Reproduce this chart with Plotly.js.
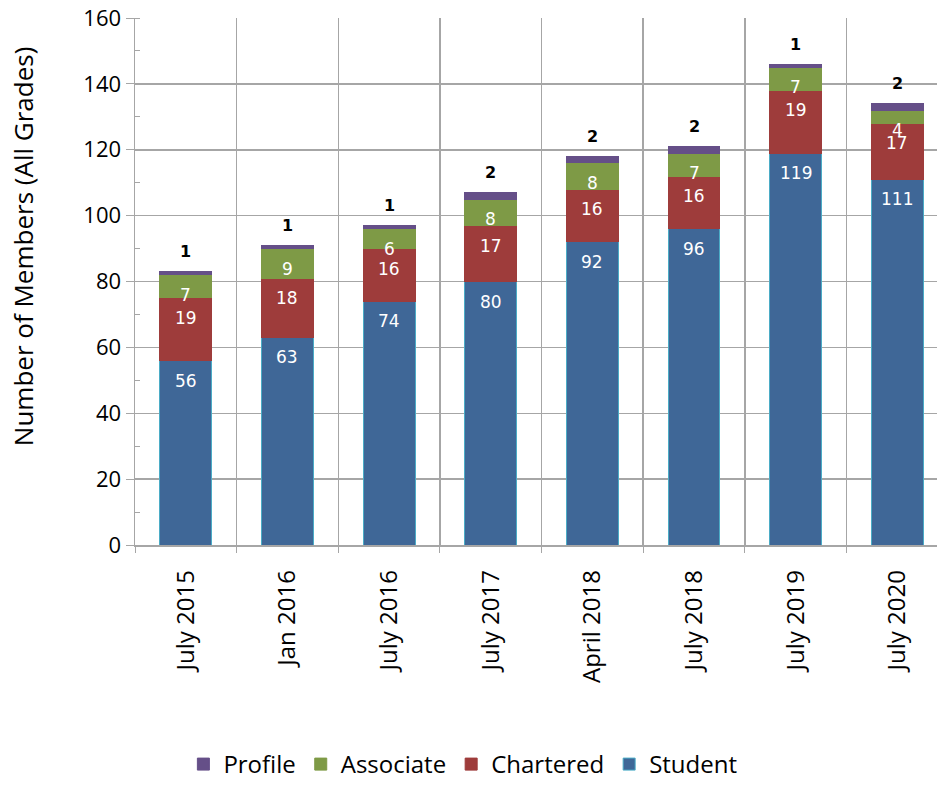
<!DOCTYPE html>
<html><head><meta charset="utf-8">
<script src="https://cdn.plot.ly/plotly-3.0.1.min.js"></script>
<style>html,body{margin:0;padding:0;background:#fff}#chart{width:937px;height:787px}</style>
</head><body><div id="chart"></div>
<script>
const categories = ["July 2015","Jan 2016","July 2016","July 2017","April 2018","July 2018","July 2019","July 2020"];
const student   = [56, 63, 74, 80, 92, 96, 119, 111];
const chartered = [19, 18, 16, 17, 16, 16, 19, 17];
const associate = [7, 9, 6, 8, 8, 7, 7, 4];
const profile   = [1, 1, 1, 2, 2, 2, 1, 2];
const yTitle = 'Number of Members (All Grades)';

const colors = {Student:'#3F6797', Chartered:'#9E3C3B', Associate:'#7E9A46', Profile:'#654F88'};
const series = [['Student',student],['Chartered',chartered],['Associate',associate],['Profile',profile]];

const traces = series.map(([name, vals]) => ({
  type:'bar', name, x:categories, y:vals,
  marker:{color:colors[name], line:{color: name==='Student' ? '#4BACC6' : colors[name], width:1}},
  width:0.51, hoverinfo:'none'
}));

const annotations = [];
const cum = categories.map(()=>0);
series.forEach(([name, vals]) => {
  vals.forEach((v,i) => {
    cum[i] += v;
    if (name === 'Profile') {
      annotations.push({x:categories[i], y:cum[i], text:'<b>'+v+'</b>', showarrow:false,
        yanchor:'middle', yshift:20, font:{family:'DejaVu Sans', size:16, color:'#000'}});
    } else {
      annotations.push({x:categories[i], y:cum[i], text:String(v), showarrow:false,
        yanchor:'middle', yshift:-20, font:{family:'DejaVu Sans', size:17, color:'#fff'}});
    }
  });
});
annotations.push({xref:'paper', yref:'paper', x:-0.1397, y:0.567, xanchor:'center', yanchor:'middle',
  text:yTitle, textangle:-90, showarrow:false, font:{family:'Open Sans', size:26, color:'#000'}});

const layout = {
  width:937, height:787, barmode:'stack', showlegend:true,
  margin:{l:135, r:0, t:18, b:242},
  paper_bgcolor:'#fff', plot_bgcolor:'#fff',
  xaxis:{type:'category', range:[-0.5, 7.39], tickson:'boundaries', showgrid:true, gridcolor:'#A6A6A6', gridwidth:1.5,
    ticks:'outside', ticklen:6, tickcolor:'#A6A6A6', tickangle:-90, ticklabelstandoff:14, automargin:false,
    tickfont:{family:'Open Sans', size:24, color:'#000'}, showline:true, linecolor:'#A6A6A6', linewidth:1.5},
  yaxis:{range:[0,160], dtick:20, showgrid:true, gridcolor:'#A6A6A6', gridwidth:1.5, zeroline:false, automargin:false,
    ticks:'outside', ticklen:8, tickcolor:'#A6A6A6', showline:true, linecolor:'#A6A6A6', linewidth:1.5,
    minor:{dtick:10, ticks:'inside', ticklen:5, tickcolor:'#A6A6A6', showgrid:false},
    tickfont:{family:'Open Sans', size:22, color:'#000'}},
  legend:{orientation:'h', xref:'container', yref:'container', x:0.494, xanchor:'center', y:-0.005, yanchor:'bottom',
    traceorder:'reversed', font:{family:'Open Sans', size:24, color:'#000'}, itemwidth:30},
  annotations
};
Plotly.newPlot('chart', traces, layout, {displayModeBar:false, staticPlot:true});
</script></body></html>
